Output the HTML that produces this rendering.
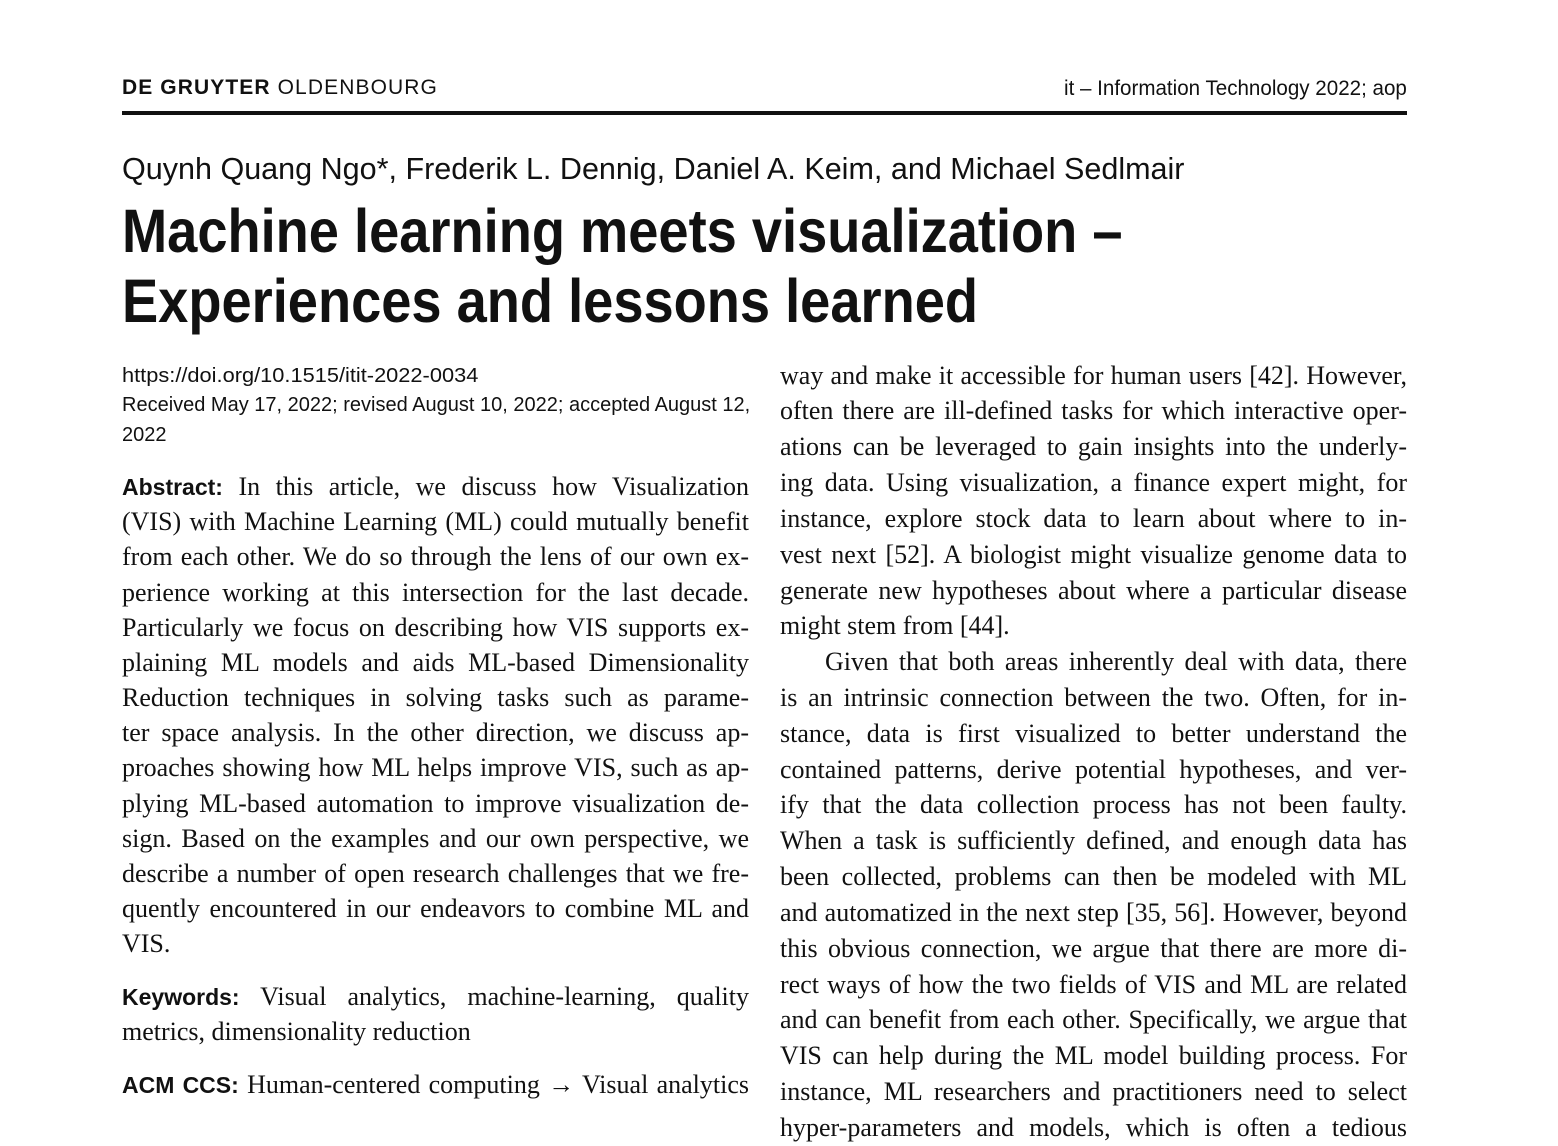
<!DOCTYPE html>
<html><head><meta charset="utf-8"><style>
body{margin:0;width:1558px;height:1145px;background:#fff;position:relative;overflow:hidden;color:#111}
.a{position:absolute;white-space:nowrap}
.s{font-family:"Liberation Sans",sans-serif}
.sc{display:inline-block;transform-origin:0 50%}
.l{position:absolute;width:627px;height:36px;line-height:36px;font-family:"Liberation Serif",serif;font-size:26px;text-align:justify;text-align-last:justify;white-space:nowrap;overflow:visible}
.l.e{text-align-last:left}
.L{left:122px}.R{left:780px}
b.k{font-family:"Liberation Sans",sans-serif;font-weight:bold;font-size:23px}
</style></head><body>
<div class="a s" style="left:122px;top:76px;font-size:21px;letter-spacing:1.1px"><b>DE GRUYTER</b> OLDENBOURG</div>
<div class="a s" style="right:151px;top:77px;font-size:21px"><span class="sc" style="transform:scaleX(0.98);transform-origin:100% 50%">it – Information Technology 2022; aop</span></div>
<div class="a" style="left:122px;top:111px;width:1285px;height:4px;background:#111"></div>
<div class="a s" style="left:122px;top:151px;font-size:31px"><span class="sc" style="transform:scaleX(0.985)">Quynh Quang Ngo*, Frederik L. Dennig, Daniel A. Keim, and Michael Sedlmair</span></div>
<div class="a s" style="left:122px;top:196px;font-size:61px;font-weight:bold"><span class="sc" style="transform:scaleX(0.889)">Machine learning meets visualization –</span></div>
<div class="a s" style="left:122px;top:266px;font-size:61px;font-weight:bold"><span class="sc" style="transform:scaleX(0.889)">Experiences and lessons learned</span></div>
<div class="a s" style="left:122px;top:365px;font-size:20px"><span class="sc" style="transform:scaleX(1.09)">https://doi.org/10.1515/itit-2022-0034</span></div>
<div class="a s" style="left:122px;top:394px;font-size:20px"><span class="sc" style="transform:scaleX(1.0)">Received May 17, 2022; revised August 10, 2022; accepted August 12,</span></div>
<div class="a s" style="left:122px;top:424px;font-size:20px"><span class="sc" style="transform:scaleX(1.0)">2022</span></div>

<div class="l L" style="top:469px"><b class="k">Abstract:</b> In this article, we discuss how Visualization</div>
<div class="l L" style="top:504px">(VIS) with Machine Learning (ML) could mutually benefit</div>
<div class="l L" style="top:539px">from each other. We do so through the lens of our own ex-</div>
<div class="l L" style="top:575px">perience working at this intersection for the last decade.</div>
<div class="l L" style="top:610px">Particularly we focus on describing how VIS supports ex-</div>
<div class="l L" style="top:645px">plaining ML models and aids ML-based Dimensionality</div>
<div class="l L" style="top:680px">Reduction techniques in solving tasks such as parame-</div>
<div class="l L" style="top:715px">ter space analysis. In the other direction, we discuss ap-</div>
<div class="l L" style="top:750px">proaches showing how ML helps improve VIS, such as ap-</div>
<div class="l L" style="top:786px">plying ML-based automation to improve visualization de-</div>
<div class="l L" style="top:821px">sign. Based on the examples and our own perspective, we</div>
<div class="l L" style="top:856px">describe a number of open research challenges that we fre-</div>
<div class="l L" style="top:891px">quently encountered in our endeavors to combine ML and</div>
<div class="l L e" style="top:926px">VIS.</div>
<div class="l L" style="top:979px"><b class="k">Keywords:</b> Visual analytics, machine-learning, quality</div>
<div class="l L e" style="top:1014px">metrics, dimensionality reduction</div>
<div class="l L" style="top:1067px"><b class="k">ACM CCS:</b> Human-centered computing → Visual analytics</div>

<div class="l R" style="top:358px">way and make it accessible for human users [42]. However,</div>
<div class="l R" style="top:393px">often there are ill-defined tasks for which interactive oper-</div>
<div class="l R" style="top:429px">ations can be leveraged to gain insights into the underly-</div>
<div class="l R" style="top:465px">ing data. Using visualization, a finance expert might, for</div>
<div class="l R" style="top:501px">instance, explore stock data to learn about where to in-</div>
<div class="l R" style="top:537px">vest next [52]. A biologist might visualize genome data to</div>
<div class="l R" style="top:573px">generate new hypotheses about where a particular disease</div>
<div class="l R e" style="top:608px">might stem from [44].</div>
<div class="l R" style="top:644px;left:825px;width:582px">Given that both areas inherently deal with data, there</div>
<div class="l R" style="top:680px">is an intrinsic connection between the two. Often, for in-</div>
<div class="l R" style="top:716px">stance, data is first visualized to better understand the</div>
<div class="l R" style="top:752px">contained patterns, derive potential hypotheses, and ver-</div>
<div class="l R" style="top:787px">ify that the data collection process has not been faulty.</div>
<div class="l R" style="top:823px">When a task is sufficiently defined, and enough data has</div>
<div class="l R" style="top:859px">been collected, problems can then be modeled with ML</div>
<div class="l R" style="top:895px">and automatized in the next step [35, 56]. However, beyond</div>
<div class="l R" style="top:931px">this obvious connection, we argue that there are more di-</div>
<div class="l R" style="top:967px">rect ways of how the two fields of VIS and ML are related</div>
<div class="l R" style="top:1002px">and can benefit from each other. Specifically, we argue that</div>
<div class="l R" style="top:1038px">VIS can help during the ML model building process. For</div>
<div class="l R" style="top:1074px">instance, ML researchers and practitioners need to select</div>
<div class="l R" style="top:1110px">hyper-parameters and models, which is often a tedious</div>
</body></html>
